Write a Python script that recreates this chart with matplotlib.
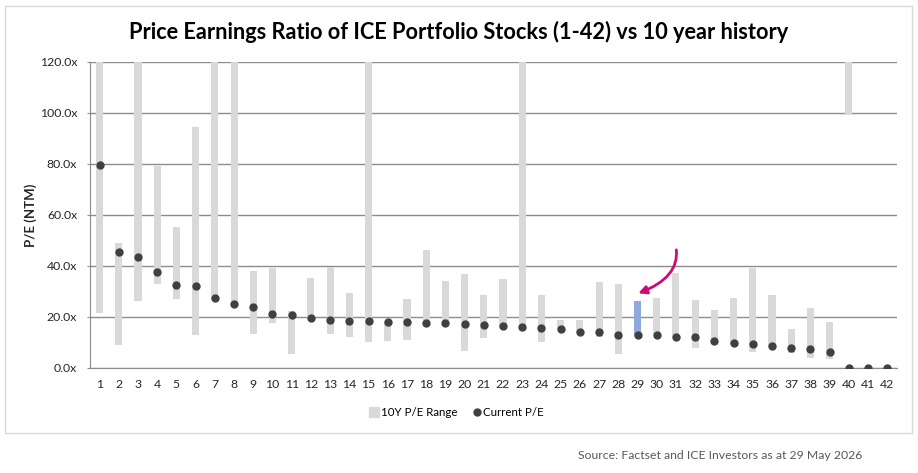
import matplotlib.pyplot as plt
import numpy as np
from matplotlib.lines import Line2D
from matplotlib.patches import Rectangle

# stock numbers 1-42
stocks = [str(i) for i in range(1, 43)]

# 10 year P/E range (low / high); highs above 120 are cut off by the axis
pe_low = [21.7, 9.1, 26.4, 33.1, 27.2, 13.1, 26.5, 24.3, 13.5, 17.8,
          5.6, 19.0, 13.5, 12.3, 10.3, 10.7, 11.1, 17.2, 16.7, 6.8,
          11.9, 16.2, 14.6, 10.3, 15.0, 13.8, 12.0, 5.6, 12.8, 12.8,
          12.0, 8.0, 10.4, 9.6, 6.4, 8.4, 6.0, 4.0, 3.6, 99.3, 0, 0]
pe_high = [150, 49.1, 150, 79.2, 55.3, 94.5, 150, 150, 38.0, 39.2,
           22.4, 35.3, 39.6, 29.4, 150, 18.6, 27.2, 46.4, 34.2, 37.0,
           28.8, 35.0, 150, 28.8, 18.8, 18.8, 33.8, 33.1, 26.4, 27.6,
           37.4, 26.8, 22.9, 27.6, 39.3, 28.8, 15.4, 23.6, 18.2, 150, 0, 0]
pe_now = [79.6, 45.6, 43.7, 37.8, 32.7, 32.3, 27.6, 25.2, 24.0, 21.3,
          20.9, 19.7, 18.9, 18.5, 18.5, 18.2, 18.2, 17.8, 17.8, 17.4,
          17.0, 16.6, 16.2, 15.8, 15.4, 14.2, 14.2, 13.1, 13.1, 13.1,
          12.3, 12.3, 10.7, 9.9, 9.5, 8.7, 8.0, 7.6, 6.4, 0, 0, 0]
highlight = 29

plt.rcParams['font.family'] = ['Lato', 'DejaVu Sans']

fig = plt.figure(figsize=(9.18, 4.73), dpi=100)
fig.patches.append(Rectangle((5 / 918, 1 - 433 / 473), 907 / 918, 427 / 473,
                             transform=fig.transFigure, fill=False,
                             edgecolor='#d9d9d9', lw=1))
ax = fig.add_axes([0.098, 0.222, 0.879, 0.647])

x = np.arange(len(stocks))
low = np.array(pe_low)
high = np.array(pe_high)
colors = ['#8eaadb' if s == str(highlight) else '#d9d9d9' for s in stocks]
ax.bar(x, high - low, bottom=low, width=0.37, color=colors, zorder=2)
ax.plot(x, pe_now, 'o', color='#404040', markersize=5, zorder=3)

ax.set_xlim(-0.5, len(stocks) - 0.5)
ax.set_ylim(0, 120)
ax.set_yticks(np.arange(0, 121, 20))
ax.set_yticklabels([f'{v:.1f}x' for v in np.arange(0, 121, 20)])
ax.set_xticks(x)
ax.set_xticklabels(stocks)
ax.tick_params(axis='both', labelsize=8.8, colors='#8c8c8c', labelcolor='#262626')
ax.tick_params(axis='x', length=0, pad=8)
ax.tick_params(axis='y', length=2.2, pad=7)
ax.grid(axis='y', color='#8c8c8c', lw=1, zorder=0)
ax.set_axisbelow(True)
for s in ['top', 'right']:
    ax.spines[s].set_visible(False)
for s in ['left', 'bottom']:
    ax.spines[s].set_color('#8c8c8c')
ax.set_ylabel('P/E (NTM)', fontsize=9.5, fontweight='bold', color='#262626')
ax.yaxis.set_label_coords(-0.066, 0.5)

# arrow pointing at the highlighted stock
hi = stocks.index(str(highlight))
ax.annotate('', xy=(hi - 0.1, pe_high[hi] + 2.5), xytext=(hi + 2.0, pe_high[hi] + 21),
            arrowprops=dict(arrowstyle='-|>', color='#cc0a7a', lw=2,
                            mutation_scale=12,
                            connectionstyle='angle3,angleA=-80,angleB=20'))

fig.text(0.5, 0.932, 'Price Earnings Ratio of ICE Portfolio Stocks (1-42) vs 10 year history',
         ha='center', va='center', fontsize=15.7, fontweight='bold', color='black')

handles = [Line2D([], [], ls='', marker='s', color='#d9d9d9', markersize=7),
           Line2D([], [], ls='', marker='o', color='#404040', markersize=5)]
fig.legend(handles, ['10Y P/E Range', 'Current P/E'], loc='center',
           bbox_to_anchor=(0.497, 0.127), ncol=2, frameon=False, fontsize=8.3,
           handletextpad=0.05, columnspacing=1.2, handlelength=1)

fig.text(0.939, 0.038, 'Source: Factset and ICE Investors as at 29 May 2026',
         ha='right', va='center', fontsize=8.8, color='#595959')

fig.savefig('out.png', dpi=100)
